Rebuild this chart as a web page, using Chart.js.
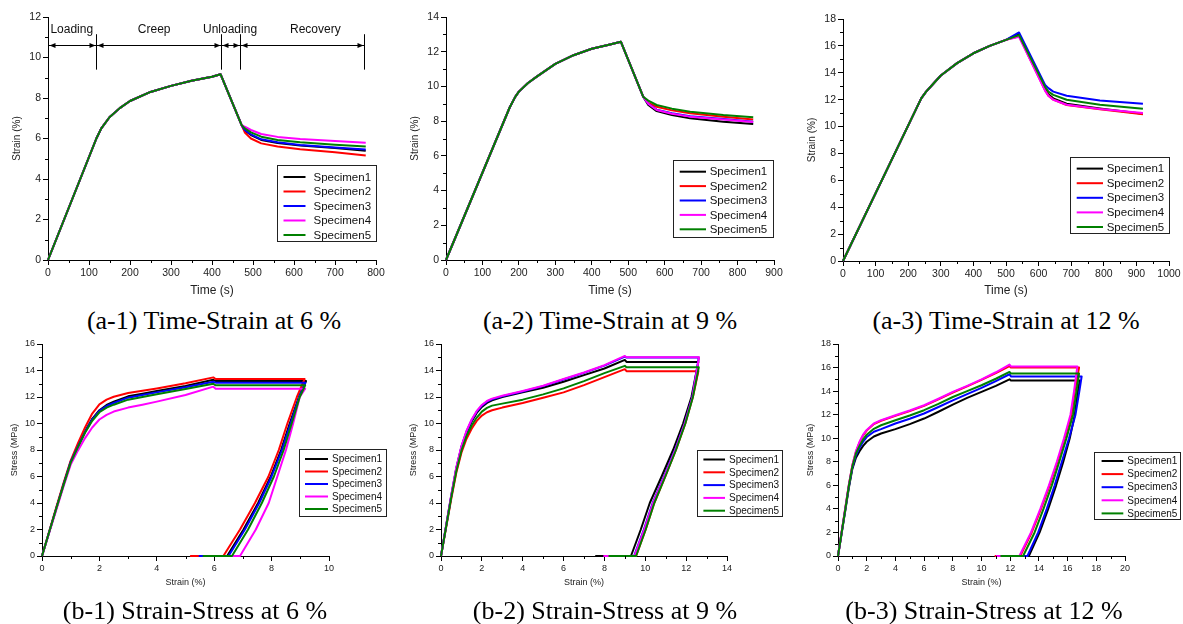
<!DOCTYPE html>
<html>
<head>
<meta charset="utf-8">
<script src="https://cdn.jsdelivr.net/npm/chart.js@4.4.1/dist/chart.umd.min.js"></script>
<style>
  body { margin: 0; background: #fff; }
  #page { position: relative; width: 1183px; height: 624px; overflow: hidden; background: #fff; }
  .panel { position: absolute; }
  .caption {
    position: absolute; transform: translateX(-50%); white-space: nowrap;
    font-family: "Liberation Serif", "Times New Roman", serif; font-size: 26px; line-height: 26px; color: #000;
  }
</style>
</head>
<body>
<div id="page">
  <div class="panel" style="left:0px;top:0px"><canvas id="a1" width="392" height="300"></canvas></div>
  <div class="panel" style="left:395px;top:0px"><canvas id="a2" width="392" height="300"></canvas></div>
  <div class="panel" style="left:790px;top:0px"><canvas id="a3" width="393" height="300"></canvas></div>
  <div class="panel" style="left:0px;top:335px"><canvas id="b1" width="395" height="262"></canvas></div>
  <div class="panel" style="left:395px;top:335px"><canvas id="b2" width="395" height="262"></canvas></div>
  <div class="panel" style="left:790px;top:335px"><canvas id="b3" width="393" height="262"></canvas></div>

  <div class="caption" style="left:214px;top:308px">(a-1) Time-Strain at 6 %</div>
  <div class="caption" style="left:610px;top:308px">(a-2) Time-Strain at 9 %</div>
  <div class="caption" style="left:1006px;top:308px">(a-3) Time-Strain at 12 %</div>
  <div class="caption" style="left:195px;top:598px">(b-1) Strain-Stress at 6 %</div>
  <div class="caption" style="left:605px;top:598px">(b-2) Strain-Stress at 9 %</div>
  <div class="caption" style="left:984px;top:598px">(b-3) Strain-Stress at 12 %</div>
</div>

<script>
const specimenNames = ['Specimen1', 'Specimen2', 'Specimen3', 'Specimen4', 'Specimen5'];
const specimenColors = ['#000000', '#ff0000', '#0000ff', '#ff00ff', '#008000'];

// (a-1) time-strain at 6 %
const a1Time = [0, 118, 130, 150, 175, 200, 250, 300, 350, 400, 421, 472, 480, 495, 520, 560, 615, 700, 775];
const a1Rise = [0, 6.0, 6.5, 7.05, 7.5, 7.85, 8.3, 8.6, 8.85, 9.05, 9.17, 6.67];
const a1Tail1 = [6.4, 6.17, 5.93, 5.78, 5.65, 5.53, 5.4];
const a1Tail2 = [6.3, 6.0, 5.76, 5.6, 5.47, 5.32, 5.16];
const a1Tail3 = [6.42, 6.2, 5.96, 5.81, 5.68, 5.56, 5.46];
const a1Tail4 = [6.58, 6.42, 6.22, 6.08, 5.98, 5.88, 5.79];
const a1Tail5 = [6.5, 6.3, 6.09, 5.93, 5.81, 5.69, 5.6];
const a1Phases = ['Loading', 'Creep', 'Unloading', 'Recovery'];
const a1PhaseBounds = [0, 118, 421, 468, 771];
const a1PhaseLabelAt = [58, 259, 444, 652];

// (a-2) time-strain at 9 %
const a2Time = [0, 175, 190, 200, 225, 250, 300, 350, 400, 450, 480, 541, 555, 578, 620, 670, 761, 843];
const a2Rise = [0, 8.8, 9.4, 9.7, 10.2, 10.58, 11.3, 11.8, 12.17, 12.42, 12.57, 9.41];
const a2Tail1 = [8.93, 8.58, 8.35, 8.16, 7.97, 7.83];
const a2Tail2 = [9.05, 8.83, 8.62, 8.45, 8.26, 8.1];
const a2Tail3 = [9.0, 8.66, 8.45, 8.28, 8.12, 7.97];
const a2Tail4 = [9.0, 8.64, 8.43, 8.26, 8.1, 7.95];
const a2Tail5 = [9.18, 8.93, 8.72, 8.54, 8.35, 8.22];

// (a-3) time-strain at 12 %
const a3Time = [0, 240, 255, 270, 300, 350, 400, 450, 500, 540, 620, 630, 645, 686, 788, 920];
const a3Rise = [0, 12.1, 12.6, 13.0, 13.8, 14.72, 15.45, 16.0, 16.45];
const a3Tail1 = [16.88, 12.8, 12.4, 12.1, 11.7, 11.35, 10.95];
const a3Tail2 = [16.72, 12.7, 12.3, 12.0, 11.6, 11.28, 10.92];
const a3Tail3 = [17.0, 13.1, 12.86, 12.6, 12.29, 11.94, 11.69];
const a3Tail4 = [16.68, 12.65, 12.29, 11.99, 11.62, 11.3, 11.0];
const a3Tail5 = [16.8, 12.95, 12.6, 12.36, 11.99, 11.62, 11.32];

// (b-1) strain-stress at 6 %
const b1LoadStrain = [0, 0.5, 0.75, 1, 1.25, 1.5, 1.75, 2, 2.25, 2.5, 3, 3.5, 4, 5, 5.97];
const b1LoadStress1 = [0, 3.6, 5.4, 7.1, 8.3, 9.4, 10.35, 11.0, 11.4, 11.65, 12.05, 12.25, 12.45, 12.83, 13.3];
const b1LoadStress2 = [0, 3.7, 5.5, 7.2, 8.5, 9.7, 10.75, 11.45, 11.8, 12.02, 12.3, 12.48, 12.65, 13.03, 13.48];
const b1LoadStress3 = [0, 3.6, 5.4, 7.1, 8.25, 9.35, 10.3, 10.95, 11.32, 11.55, 11.95, 12.15, 12.35, 12.73, 13.15];
const b1LoadStress4 = [0, 3.5, 5.25, 6.9, 7.95, 8.9, 9.7, 10.3, 10.65, 10.9, 11.2, 11.42, 11.65, 12.15, 12.78];
const b1LoadStress5 = [0, 3.6, 5.35, 7.05, 8.2, 9.3, 10.2, 10.85, 11.2, 11.42, 11.8, 12.0, 12.2, 12.6, 13.0];
const b1HoldFrom = 6.05;
const b1HoldStress = [13.2, 13.36, 13.08, 12.63, 12.88];
const b1PeakStrain = [9.2, 9.15, 9.18, 9.17, 9.17];
const b1UnloadStress = [12, 10, 8, 6, 4, 2, 0];
const b1UnloadStrain1 = [8.95, 8.63, 8.33, 7.97, 7.53, 7.02, 6.45];
const b1UnloadStrain2 = [8.88, 8.55, 8.25, 7.89, 7.42, 6.9, 6.32];
const b1UnloadStrain3 = [8.96, 8.66, 8.36, 8.0, 7.57, 7.07, 6.5];
const b1UnloadStrain4 = [8.98, 8.75, 8.5, 8.2, 7.9, 7.45, 6.9];
const b1UnloadStrain5 = [8.98, 8.7, 8.42, 8.08, 7.66, 7.18, 6.62];
const b1Recovered = [5.4, 5.16, 5.46, 5.79, 5.6];

// (b-2) strain-stress at 9 %
const b2LoadStrain = [0, 0.5, 0.75, 1, 1.25, 1.5, 1.75, 2, 2.25, 2.5, 3, 4, 5, 6, 7, 8, 9];
const b2LoadStress1 = [0, 4.5, 6.6, 8.2, 9.3, 10.15, 10.8, 11.25, 11.55, 11.75, 12.0, 12.35, 12.7, 13.15, 13.65, 14.15, 14.8];
const b2LoadStress2 = [0, 4.3, 6.3, 7.8, 8.85, 9.6, 10.2, 10.6, 10.85, 11.0, 11.2, 11.55, 11.95, 12.35, 12.9, 13.5, 14.1];
const b2LoadStress3 = [0, 4.55, 6.65, 8.25, 9.4, 10.25, 10.9, 11.35, 11.65, 11.83, 12.05, 12.42, 12.82, 13.32, 13.82, 14.37, 15.05];
const b2LoadStress4 = [0, 4.6, 6.7, 8.3, 9.45, 10.3, 10.95, 11.4, 11.7, 11.88, 12.1, 12.45, 12.85, 13.36, 13.85, 14.4, 15.1];
const b2LoadStress5 = [0, 4.4, 6.4, 7.95, 9.05, 9.85, 10.45, 10.9, 11.18, 11.35, 11.5, 11.8, 12.2, 12.65, 13.2, 13.8, 14.35];
const b2HoldFrom = 9.08;
const b2HoldStress = [14.65, 13.95, 14.98, 15.0, 14.25];
const b2PeakStrain = [12.6, 12.6, 12.62, 12.63, 12.62];
const b2UnloadStress = [12, 10, 8, 6, 4, 2, 0];
const b2UnloadStrain1 = [12.26, 11.85, 11.36, 10.8, 10.22, 9.78, 9.3];
const b2UnloadStrain2 = [12.33, 11.96, 11.5, 10.98, 10.44, 10.02, 9.55];
const b2UnloadStrain3 = [12.3, 11.92, 11.45, 10.92, 10.36, 9.93, 9.45];
const b2UnloadStrain4 = [12.31, 11.93, 11.47, 10.94, 10.38, 9.95, 9.47];
const b2UnloadStrain5 = [12.33, 11.96, 11.5, 10.98, 10.44, 10.02, 9.55];
const b2Recovered = [7.55, 8.12, 7.98, 7.95, 8.2];

// (b-3) strain-stress at 12 %
const b3LoadStrain = [0, 0.5, 0.75, 1, 1.25, 1.5, 1.75, 2, 2.5, 3, 4, 5, 6, 7, 8, 9, 10, 11, 11.95];
const b3LoadStress1 = [0, 3.8, 5.75, 7.4, 8.35, 8.9, 9.35, 9.7, 10.15, 10.4, 10.77, 11.2, 11.67, 12.25, 12.86, 13.42, 13.93, 14.45, 15.0];
const b3LoadStress2 = [0, 4.0, 6.0, 7.7, 8.85, 9.65, 10.25, 10.65, 11.2, 11.48, 11.9, 12.3, 12.75, 13.3, 13.88, 14.4, 14.95, 15.52, 16.13];
const b3LoadStress3 = [0, 3.9, 5.85, 7.5, 8.55, 9.2, 9.7, 10.1, 10.55, 10.77, 11.25, 11.65, 12.1, 12.65, 13.22, 13.75, 14.27, 14.85, 15.43];
const b3LoadStress4 = [0, 4.0, 6.0, 7.7, 8.9, 9.7, 10.3, 10.7, 11.25, 11.53, 11.95, 12.35, 12.8, 13.35, 13.93, 14.45, 15.0, 15.6, 16.25];
const b3LoadStress5 = [0, 3.9, 5.9, 7.6, 8.7, 9.35, 9.9, 10.3, 10.8, 11.1, 11.53, 11.93, 12.38, 12.92, 13.5, 14.0, 14.5, 15.05, 15.63];
const b3HoldFrom = 12.05;
const b3HoldStress = [14.9, 16.0, 15.25, 16.1, 15.5];
const b3PeakStrain = [16.85, 16.8, 16.98, 16.68, 16.8];
const b3UnloadStress = [14, 12, 10, 8, 6, 4, 2, 0];
const b3UnloadStrain1 = [16.72, 16.5, 16.15, 15.7, 15.2, 14.65, 14.05, 13.3];
const b3UnloadStrain2 = [16.5, 16.27, 15.8, 15.3, 14.75, 14.15, 13.5, 12.7];
const b3UnloadStrain3 = [16.82, 16.55, 16.1, 15.6, 15.1, 14.55, 13.95, 13.2];
const b3UnloadStrain4 = [16.45, 16.2, 15.75, 15.25, 14.7, 14.1, 13.45, 12.64];
const b3UnloadStrain5 = [16.62, 16.38, 15.92, 15.42, 14.9, 14.32, 13.7, 12.9];
const b3Recovered = [10.95, 10.92, 11.69, 11.0, 11.32];

const sans = '"Liberation Sans", Arial, sans-serif';

function timePoints(time, rise, tail) {
  return rise.concat(tail).map((y, i) => ({ x: time[i], y: y }));
}

function loopPoints(loadStrain, loadStress, holdFrom, hold, peak, unloadStress, unloadStrain, recovered) {
  const pts = loadStrain.map((x, i) => ({ x: x, y: loadStress[i] }));
  pts.push({ x: holdFrom, y: hold }, { x: peak, y: hold });
  unloadStress.forEach((y, i) => pts.push({ x: unloadStrain[i], y: y }));
  pts.push({ x: recovered, y: 0 });
  return pts;
}

function series(list) {
  return list.map((pts, i) => ({
    label: specimenNames[i],
    data: pts,
    showLine: true,
    borderColor: specimenColors[i],
    backgroundColor: specimenColors[i],
    borderWidth: 2,
    borderJoinStyle: 'round',
    pointRadius: 0,
    tension: 0,
    clip: false,
    order: 4 - i   // lower order is drawn on top: Specimen5 ends up topmost
  }));
}

// Origin-style minor ticks, outside the axes
const minorTicks = {
  id: 'minorTicks',
  afterDraw(chart, args, opts) {
    const ctx = chart.ctx;
    ctx.save();
    ctx.strokeStyle = '#000';
    ctx.lineWidth = 1;
    ['x', 'y'].forEach(id => {
      const scale = chart.scales[id];
      const step = opts[id];
      if (!step) return;
      const major = scale.options.ticks.stepSize;
      for (let v = scale.min; v <= scale.max + 1e-9; v += step) {
        const r = v / major;
        if (Math.abs(r - Math.round(r)) < 1e-6) continue;
        const p = Math.round(scale.getPixelForValue(v)) + 0.5;
        ctx.beginPath();
        if (id === 'x') { ctx.moveTo(p, scale.top); ctx.lineTo(p, scale.top + 3); }
        else { ctx.moveTo(scale.right, p); ctx.lineTo(scale.right - 3, p); }
        ctx.stroke();
      }
    });
    ctx.restore();
  }
};

// boxed legend inside the plot
const boxLegend = {
  id: 'boxLegend',
  afterDraw(chart, args, o) {
    if (!o.w) return;
    const ctx = chart.ctx;
    ctx.save();
    ctx.fillStyle = '#fff';
    ctx.fillRect(o.x, o.y, o.w, o.h);
    ctx.strokeStyle = '#222';
    ctx.lineWidth = 1;
    ctx.strokeRect(Math.round(o.x) + 0.5, Math.round(o.y) + 0.5, Math.round(o.w), Math.round(o.h));
    ctx.font = o.size + 'px ' + sans;
    ctx.textBaseline = 'middle';
    specimenNames.forEach((name, i) => {
      const y = o.y + o.first + i * o.step;
      ctx.strokeStyle = specimenColors[i];
      ctx.lineWidth = 2;
      ctx.beginPath();
      ctx.moveTo(o.x + o.lineFrom, y);
      ctx.lineTo(o.x + o.lineTo, y);
      ctx.stroke();
      ctx.fillStyle = '#111';
      ctx.fillText(name, o.x + o.textAt, y + 0.5);
    });
    ctx.restore();
  }
};

function arrowHead(ctx, x, y, dir) {
  ctx.beginPath();
  ctx.moveTo(x, y);
  ctx.lineTo(x - dir * 6, y - 2.5);
  ctx.lineTo(x - dir * 6, y + 2.5);
  ctx.closePath();
  ctx.fill();
}

// phase marks of the creep test in (a-1)
const phaseNotes = {
  id: 'phaseNotes',
  afterDatasetsDraw(chart, args, o) {
    if (!o.bounds) return;
    const xs = chart.scales.x, ys = chart.scales.y;
    const ctx = chart.ctx;
    const ay = Math.round(ys.getPixelForValue(o.arrowAt)) + 0.5;
    const top = ys.getPixelForValue(o.lineTop), bottom = ys.getPixelForValue(o.lineBottom);
    ctx.save();
    ctx.strokeStyle = '#000';
    ctx.fillStyle = '#000';
    ctx.lineWidth = 1;
    const px = o.bounds.map(t => Math.round(xs.getPixelForValue(t)) + 0.5);
    ctx.beginPath();
    ctx.moveTo(px[0], ay);
    ctx.lineTo(px[px.length - 1], ay);
    ctx.stroke();
    px.forEach((p, i) => {
      if (i > 0) {
        ctx.beginPath();
        ctx.moveTo(p, top);
        ctx.lineTo(p, bottom);
        ctx.stroke();
      }
    });
    for (let i = 0; i < px.length - 1; i++) {
      arrowHead(ctx, px[i] + 1, ay, -1);
      arrowHead(ctx, px[i + 1] - 1, ay, 1);
    }
    ctx.font = '12px ' + sans;
    ctx.textAlign = 'center';
    ctx.textBaseline = 'middle';
    ctx.fillStyle = '#111';
    o.labels.forEach((txt, i) => {
      ctx.fillText(txt, xs.getPixelForValue(o.labelAt[i]), ys.getPixelForValue(o.labelY));
    });
    ctx.restore();
  }
};

function axis(range, title, titleSize, tickSize, titlePad, fit) {
  return {
    type: 'linear',
    min: range[0],
    max: range[1],
    ticks: {
      stepSize: range[2], color: '#222', font: { family: sans, size: tickSize },
      padding: 2, maxRotation: 0, autoSkip: false,
      callback: v => String(v)
    },
    grid: { drawOnChartArea: false, tickLength: 5, tickColor: '#000', color: '#000' },
    border: { color: '#000', width: 1 },
    title: { display: true, text: title, color: '#222', font: { family: sans, size: titleSize }, padding: titlePad },
    afterFit: fit
  };
}

function buildChart(id, g, datasets) {
  const xLine = g.xTitleSize * 1.2, yLine = g.yTitleSize * 1.2;
  return new Chart(document.getElementById(id), {
    type: 'scatter',
    data: { datasets: datasets },
    options: {
      responsive: false,
      animation: false,
      events: [],
      layout: { padding: { left: 0, top: g.area[1], right: g.w - g.area[2], bottom: 0 } },
      plugins: {
        legend: { display: false },
        tooltip: { enabled: false },
        minorTicks: g.minor,
        boxLegend: g.legend,
        phaseNotes: g.notes || {}
      },
      scales: {
        x: axis(g.x, g.xTitle, g.xTitleSize, g.tickSize,
          { top: 0, bottom: g.h - g.xTitleY - xLine / 2 },
          s => { s.height = g.h - g.area[3]; }),
        y: axis(g.y, g.yTitle, g.yTitleSize, g.tickSize,
          { top: g.yTitleX - yLine / 2, bottom: 0 },
          s => { s.width = g.area[0]; })
      }
    },
    plugins: [minorTicks, boxLegend, phaseNotes]
  });
}

const topRow = { h: 300, xTitle: 'Time (s)', xTitleSize: 12, xTitleY: 291, yTitle: 'Strain (%)', yTitleSize: 10, tickSize: 10.5, minor: { x: 50, y: 1 } };
const bottomRow = { h: 262, xTitle: 'Strain (%)', xTitleSize: 9, xTitleY: 247.5, yTitle: 'Stress (MPa)', yTitleSize: 9, tickSize: 9, minor: { x: 1, y: 1 } };

buildChart('a1', Object.assign({}, topRow, {
  w: 392, area: [48, 17, 376, 260], x: [0, 800, 100], y: [0, 12, 2], yTitleX: 17,
  legend: { x: 277, y: 165, w: 99, h: 76, first: 12, step: 14.5, lineFrom: 6.5, lineTo: 28.5, textAt: 36.5, size: 11.5 },
  notes: { bounds: a1PhaseBounds, labels: a1Phases, labelAt: a1PhaseLabelAt, labelY: 11.36, arrowAt: 10.6, lineTop: 11.15, lineBottom: 9.4 }
}), series([
  timePoints(a1Time, a1Rise, a1Tail1),
  timePoints(a1Time, a1Rise, a1Tail2),
  timePoints(a1Time, a1Rise, a1Tail3),
  timePoints(a1Time, a1Rise, a1Tail4),
  timePoints(a1Time, a1Rise, a1Tail5)
]));

buildChart('a2', Object.assign({}, topRow, {
  w: 392, area: [51, 17, 379, 260], x: [0, 900, 100], y: [0, 14, 2], yTitleX: 20,
  legend: { x: 278, y: 160, w: 100, h: 77, first: 11.7, step: 14.4, lineFrom: 6.7, lineTo: 33, textAt: 36.7, size: 11.5 }
}), series([
  timePoints(a2Time, a2Rise, a2Tail1),
  timePoints(a2Time, a2Rise, a2Tail2),
  timePoints(a2Time, a2Rise, a2Tail3),
  timePoints(a2Time, a2Rise, a2Tail4),
  timePoints(a2Time, a2Rise, a2Tail5)
]));

buildChart('a3', Object.assign({}, topRow, {
  w: 393, area: [53, 19, 379, 261], x: [0, 1000, 100], y: [0, 18, 2], yTitleX: 22,
  legend: { x: 280, y: 157, w: 99, h: 76, first: 11.6, step: 14.6, lineFrom: 6.7, lineTo: 33, textAt: 36.7, size: 11.5 }
}), series([
  timePoints(a3Time, a3Rise, a3Tail1),
  timePoints(a3Time, a3Rise, a3Tail2),
  timePoints(a3Time, a3Rise, a3Tail3),
  timePoints(a3Time, a3Rise, a3Tail4),
  timePoints(a3Time, a3Rise, a3Tail5)
]));

buildChart('b1', Object.assign({}, bottomRow, {
  w: 395, area: [42, 9, 329, 221], x: [0, 10, 2], y: [0, 16, 2], yTitleX: 15,
  legend: { x: 299, y: 114, w: 87, h: 67, first: 10, step: 12.5, lineFrom: 6, lineTo: 29, textAt: 33, size: 10 }
}), series([
  loopPoints(b1LoadStrain, b1LoadStress1, b1HoldFrom, b1HoldStress[0], b1PeakStrain[0], b1UnloadStress, b1UnloadStrain1, b1Recovered[0]),
  loopPoints(b1LoadStrain, b1LoadStress2, b1HoldFrom, b1HoldStress[1], b1PeakStrain[1], b1UnloadStress, b1UnloadStrain2, b1Recovered[1]),
  loopPoints(b1LoadStrain, b1LoadStress3, b1HoldFrom, b1HoldStress[2], b1PeakStrain[2], b1UnloadStress, b1UnloadStrain3, b1Recovered[2]),
  loopPoints(b1LoadStrain, b1LoadStress4, b1HoldFrom, b1HoldStress[3], b1PeakStrain[3], b1UnloadStress, b1UnloadStrain4, b1Recovered[3]),
  loopPoints(b1LoadStrain, b1LoadStress5, b1HoldFrom, b1HoldStress[4], b1PeakStrain[4], b1UnloadStress, b1UnloadStrain5, b1Recovered[4])
]));

buildChart('b2', Object.assign({}, bottomRow, {
  w: 395, area: [46, 9, 332, 221], x: [0, 14, 2], y: [0, 16, 2], yTitleX: 19,
  legend: { x: 301.7, y: 115, w: 85, h: 66, first: 9.5, step: 12.8, lineFrom: 6.7, lineTo: 28.3, textAt: 32.3, size: 10 }
}), series([
  loopPoints(b2LoadStrain, b2LoadStress1, b2HoldFrom, b2HoldStress[0], b2PeakStrain[0], b2UnloadStress, b2UnloadStrain1, b2Recovered[0]),
  loopPoints(b2LoadStrain, b2LoadStress2, b2HoldFrom, b2HoldStress[1], b2PeakStrain[1], b2UnloadStress, b2UnloadStrain2, b2Recovered[1]),
  loopPoints(b2LoadStrain, b2LoadStress3, b2HoldFrom, b2HoldStress[2], b2PeakStrain[2], b2UnloadStress, b2UnloadStrain3, b2Recovered[2]),
  loopPoints(b2LoadStrain, b2LoadStress4, b2HoldFrom, b2HoldStress[3], b2PeakStrain[3], b2UnloadStress, b2UnloadStrain4, b2Recovered[3]),
  loopPoints(b2LoadStrain, b2LoadStress5, b2HoldFrom, b2HoldStress[4], b2PeakStrain[4], b2UnloadStress, b2UnloadStrain5, b2Recovered[4])
]));

buildChart('b3', Object.assign({}, bottomRow, {
  w: 393, area: [48, 9, 335, 221], x: [0, 20, 2], y: [0, 18, 2], yTitleX: 21,
  legend: { x: 304.3, y: 116.7, w: 86, h: 66.6, first: 9.3, step: 13.1, lineFrom: 7.3, lineTo: 29, textAt: 33, size: 10 }
}), series([
  loopPoints(b3LoadStrain, b3LoadStress1, b3HoldFrom, b3HoldStress[0], b3PeakStrain[0], b3UnloadStress, b3UnloadStrain1, b3Recovered[0]),
  loopPoints(b3LoadStrain, b3LoadStress2, b3HoldFrom, b3HoldStress[1], b3PeakStrain[1], b3UnloadStress, b3UnloadStrain2, b3Recovered[1]),
  loopPoints(b3LoadStrain, b3LoadStress3, b3HoldFrom, b3HoldStress[2], b3PeakStrain[2], b3UnloadStress, b3UnloadStrain3, b3Recovered[2]),
  loopPoints(b3LoadStrain, b3LoadStress4, b3HoldFrom, b3HoldStress[3], b3PeakStrain[3], b3UnloadStress, b3UnloadStrain4, b3Recovered[3]),
  loopPoints(b3LoadStrain, b3LoadStress5, b3HoldFrom, b3HoldStress[4], b3PeakStrain[4], b3UnloadStress, b3UnloadStrain5, b3Recovered[4])
]));
</script>
</body>
</html>
